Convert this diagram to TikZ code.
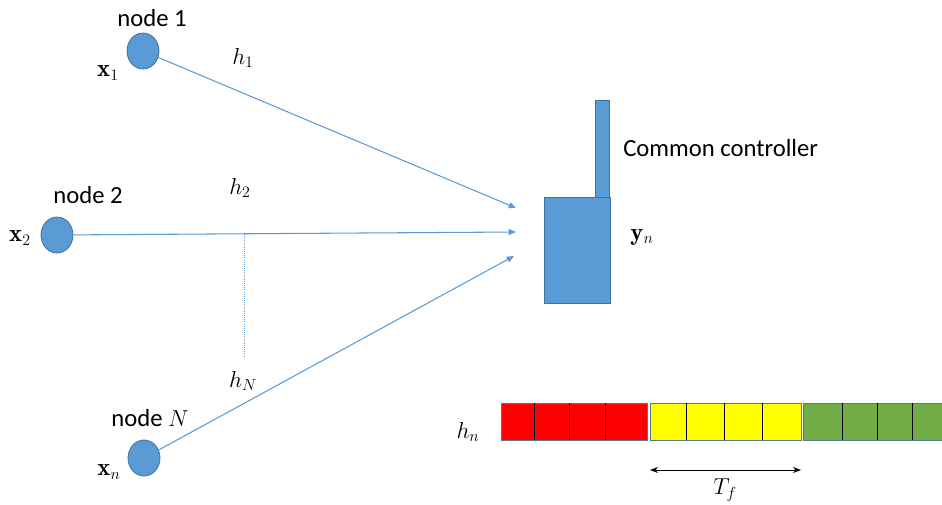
\documentclass[tikz,border=0pt]{standalone}
\usepackage{fontspec}
\newfontfamily\labelfont{Carlito}
\usetikzlibrary{arrows.meta,shapes.geometric}
\definecolor{nodeblue}{HTML}{5B9BD5}
\definecolor{edgeblue}{HTML}{41719C}
\definecolor{barred}{HTML}{FF0000}
\definecolor{baryellow}{HTML}{FFFF00}
\definecolor{bargreen}{HTML}{70AD47}
\tikzset{
  x=0.75pt, y=-0.75pt,
  every node/.style={inner sep=0pt, font=\fontsize{18.5}{22}\selectfont},
  txt/.style={font=\fontsize{18.5}{22}\selectfont\labelfont},
  sensor/.style={ellipse, draw=edgeblue, fill=nodeblue, line width=0.6pt, minimum width=24pt, minimum height=27pt},
  link/.style={draw=nodeblue, line width=0.8pt, -{Triangle[length=5.5pt,width=4.5pt]}},
  ctrlbox/.style={rectangle, draw=edgeblue, fill=nodeblue, line width=0.6pt},
  lbl/.style={anchor=center},
  cellline/.style={draw=black, line width=0.6pt},
  segborder/.style={draw=edgeblue!70!gray, line width=0.7pt}
}
\begin{document}
\begin{tikzpicture}
\useasboundingbox (0,0) rectangle (942,504);
\clip (0,0) rectangle (942,504);
% nodes
\node[sensor] (n1) at (143,51) {};
\node[sensor] (n2) at (57,235) {};
\node[sensor] (nN) at (144,458) {};
\node[lbl,txt] (t1) at (152,18) {node 1};
\node[lbl,txt] (t2) at (88,195) {node 2};
\node[lbl,txt] (tN) at (150,418) {node $N$};
\node[lbl] (x1) at (108,73) {$\mathbf{x}_1$};
\node[lbl] (x2) at (20,238) {$\mathbf{x}_2$};
\node[lbl] (xn) at (109,472) {$\mathbf{x}_n$};
\node[lbl] (h1) at (243,58) {$h_1$};
\node[lbl] (h2) at (240,188) {$h_2$};
\node[lbl] (hN) at (243,381) {$h_N$};
% controller
\node[ctrlbox, minimum width=10.5pt, minimum height=73pt] (ant) at (602,149.5) {};
\node[ctrlbox, minimum width=50pt, minimum height=79pt] (ctrl) at (577.5,250.5) {};
\node[anchor=west,txt] (cc) at (623,148) {Common controller};
\node[lbl] (yn) at (642,237) {$\mathbf{y}_n$};
% connectors
\coordinate (a1) at (516,208);
\coordinate (a2) at (516,232);
\coordinate (aN) at (514,256);
\draw[link] (n1) -- (a1);
\draw[link] (n2) -- (a2);
\draw[link] (nN) -- (aN);
\coordinate (d1) at (244,234);
\coordinate (d2) at (244,356);
\draw[draw=nodeblue, line width=0.6pt, densely dotted] (d1) -- (d2);
% bars
\node[lbl] (hn) at (468,432) {$h_n$};
\fill[barred] (501,403) rectangle (647,440);
\draw[segborder] (501,403) rectangle (647,440);
\foreach \xx in {534,569,605} \draw[cellline] (\xx,403) -- (\xx,440);
\fill[baryellow] (650,403) rectangle (801,440);
\draw[segborder] (650,403) rectangle (801,440);
\foreach \xx in {686,724,762} \draw[cellline] (\xx,403) -- (\xx,440);
\fill[bargreen] (803,403) rectangle (955,440);
\draw[segborder] (955,403) -- (803,403) -- (803,440) -- (955,440);
\foreach \xx in {842,877,912} \draw[cellline] (\xx,403) -- (\xx,440);
% T_f
\coordinate (tf1) at (650,470);
\coordinate (tf2) at (801,470);
\draw[line width=0.7pt, {Stealth[length=6pt,width=4.5pt]}-{Stealth[length=6pt,width=4.5pt]}] (tf1) -- (tf2);
\node[lbl] (tf) at (725,490) {$T_f$};
\end{tikzpicture}
\end{document}
